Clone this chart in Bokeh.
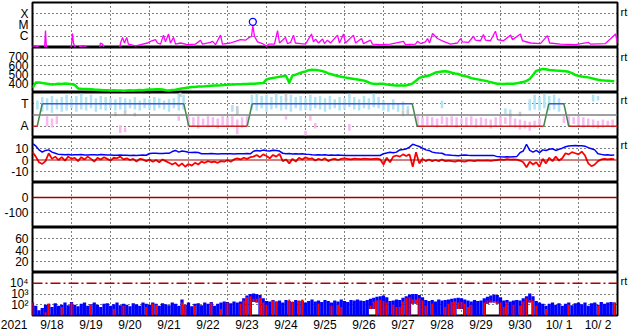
import numpy as np
from bokeh.plotting import figure
from bokeh.layouts import column
from bokeh.models import (Range1d, FixedTicker, Span, Grid, ColumnDataSource,
                          LinearAxis, LogAxis)
from bokeh.embed import file_html
from bokeh.resources import INLINE

FONT = "Liberation Sans"

# ---------------- categories / tick labels ----------------
year_label = "2021"
day_labels = ["9/18", "9/19", "9/20", "9/21", "9/22", "9/23", "9/24", "9/25",
              "9/26", "9/27", "9/28", "9/29", "9/30", "10/ 1", "10/ 2"]
day_starts = [24 * i for i in range(1, 15)]          # midnight grid lines (hours)
day_centers = [24 * i + 12 for i in range(15)]       # label positions (noon)

# ---------------- X-ray flux (log10 W/m2) ----------------
xray_hours = [0, 1.2, 3.7, 4.9, 7.4, 8.0, 8.6, 23.4, 24.0, 24.6, 25.2, 25.8, 27, 29.5, 32, 34.5,
              41.2, 41.8, 43.1, 44.3, 53.5, 54.2, 55.4, 56.6, 58.0, 59, 63.4, 66.5, 70.8, 72.6,
              75.7, 76.9, 78.8, 80.6, 81.8, 83.7, 84.9, 86.8, 88, 91.1, 95.4, 100.3, 103.4, 104.6,
              109.5, 110.8, 112.6, 115.7, 116.9, 121.8, 124.9, 128, 131.1, 132.9, 134.8, 135.6,
              136.6, 138.5, 141.5, 144, 145.2, 148.9, 150.8, 152, 155.7, 156.9, 158.8, 160.6,
              161.8, 164.9, 168, 171.7, 172.9, 174.2, 176, 178.5, 179.7, 181.5, 183.4, 187.7,
              188.9, 191.4, 192.6, 197.5, 198.8, 202.5, 203.7, 208, 209.2, 214.2, 220.3, 228.3,
              229.5, 235.7, 236.9, 238.8, 241.8, 243.1, 244.3, 246.2, 249.2, 252.9, 257.2, 261.5,
              263.4, 264.6, 268.3, 271.4, 272.6, 275.7, 277.5, 278.8, 281.8, 284.9, 286.2, 289.8,
              294.2, 295.4, 300.3, 301.5, 306.5, 312.6, 316.9, 318.2, 324.9, 334.2, 342.2, 343.4,
              352.6, 358.8, 360]
xray_log10 = [-6.9, -6.85, -6.95, -7.1, -7.1, -5.5, -7.1, -7.1, -6.8, -5.75, -6.6, -6.85, -7.1, -6.9, -6.85, -7.1,
              -7.1, -6.6, -6.7, -7.1, -7.1, -6.6, -6.1, -6.6, -6.1, -6.7, -6.85, -6.75, -6.6, -6.45,
              -6.3, -6.6, -6.7, -5.9, -6.5, -5.8, -6.6, -6.1, -6.7, -6.6, -6.75, -6.7, -6.35, -6.7,
              -6.55, -6.45, -6.75, -5.9, -6.7, -6.6, -6.45, -6.3, -6.35, -6.15, -6.0, -5.05,
              -6.0, -6.5, -6.65, -6.9, -6.7, -6.7, -5.5, -6.6, -6.1, -6.65, -6.55, -5.9,
              -6.6, -6.65, -6.7, -5.8, -6.5, -6.25, -6.6, -6.25, -6.65, -6.35, -6.6, -5.9,
              -6.6, -5.8, -6.6, -5.9, -6.6, -6.2, -6.65, -6.35, -6.7, -6.75, -6.7, -6.45,
              -6.75, -6.7, -6.45, -6.65, -6.5, -6.2, -6.6, -5.75, -6.2, -6.45, -6.7, -6.6,
              -6.2, -6.5, -6.55, -6.0, -6.35, -6.4, -5.85, -6.35, -6.4, -5.55, -6.3, -6.4,
              -5.9, -6.3, -5.8, -6.4, -6.6, -6.65, -5.95, -6.6, -6.7, -6.75, -6.55, -6.7,
              -6.65, -5.8, -6.6]
flare_hours = [135.6]
flare_log10 = [-4.72]

# ---------------- 2-hour series (one row = one day) ----------------
speed = [352, 410, 412, 405, 400, 395, 390, 392, 398, 394, 399, 396,
         392, 385, 345, 342, 340, 338, 336, 333, 331, 328, 325, 324,
         322, 324, 321, 323, 320, 322, 324, 322, 325, 327, 326, 330,
         332, 334, 336, 337, 333, 325, 322, 328, 332, 338, 345, 350,
         355, 360, 362, 366, 368, 370, 373, 375, 377, 378, 380, 383,
         385, 388, 389, 391, 392, 394, 395, 397, 396, 399, 402, 405,
         445, 455, 462, 468, 474, 480, 487, 410, 488, 498, 512, 525,
         535, 548, 552, 550, 546, 540, 528, 512, 503, 492, 484, 474,
         468, 462, 456, 450, 445, 438, 432, 420, 402, 396, 395, 396,
         397, 390, 385, 380, 378, 377, 378, 379, 388, 402, 430, 462,
         472, 480, 488, 505, 522, 528, 533, 536, 530, 520, 512, 505,
         492, 482, 475, 460, 452, 446, 438, 432, 424, 415, 405, 398,
         396, 395, 396, 397, 398, 402, 410, 416, 430, 450, 495, 540,
         550, 562, 558, 550, 548, 545, 543, 540, 537, 530, 515, 495,
         485, 478, 472, 468, 460, 450, 442, 437, 433, 430, 427, 425]

bt = [14.5, 12.5, 9, 7, 8.5, 9, 7, 6, 5, 4.8, 4.6, 4.8,
      4.5, 4.7, 4.6, 4.8, 4.4, 4.5, 4.6, 4.7, 4.5, 4.8, 4.6, 4.4,
      4.5, 4.3, 4.2, 4.4, 4.2, 4.3, 4.1, 4.2, 4.0, 4.3, 4.4, 4.2,
      5.8, 5.9, 6.0, 5.8, 5.7, 6.0, 5.9, 7.5, 8.5, 7.0, 8.0, 7.5,
      6.8, 6.7, 6.8, 6.6, 5.6, 5.5, 5.6, 5.7, 5.6, 5.4, 5.5, 5.6,
      5.5, 5.6, 5.4, 5.6, 5.5, 5.6, 5.7, 5.5, 7.8, 8.5, 8.0, 8.8,
      8.2, 8.0, 8.7, 8.4, 7.9, 6.0, 5.5, 5.8, 5.4, 5.6, 5.3, 5.5,
      5.2, 5.0, 4.7, 4.5, 4.6, 4.4, 4.6, 4.3, 4.5, 4.2, 4.4, 4.3,
      4.0, 4.1, 4.0, 3.9, 4.0, 4.1, 4.0, 3.9, 4.0, 4.0, 4.1, 4.0,
      5.6, 6.2, 6.8, 6.5, 7.0, 8.9, 9.3, 9.8, 11.5, 14.0, 13.0, 12.0,
      10.5, 9.0, 8.5, 7.0, 6.5, 6.2, 6.0, 4.7, 4.5, 4.2, 4.0, 3.8,
      4.3, 4.5, 4.2, 4.0, 4.1, 4.0, 3.9, 4.0, 4.1, 4.0, 3.9, 3.0,
      2.8, 2.7, 2.9, 2.6, 2.8, 3.0, 6.5, 8.0, 14.0, 8.5, 7.0, 8.5,
      6.5, 9.0, 8.5, 9.5, 10.0, 8.5, 9.5, 10.5, 11.8, 12.5, 12.7, 12.8,
      12.7, 12.6, 12.3, 11.0, 10.0, 9.0, 5.5, 5.0, 4.5, 4.6, 4.3, 4.5]

bz = [7, 3, -2, -3.5, -1, 6, 1, 3, 0, 2.5, -0.5, 3,
      1, 2, -1, 2.5, 0.5, 3, 1, -1.5, 2, 0.5, 2.5, 1,
      -0.5, 2, 1.5, 3, 0.5, 1.5, 0, 1, -1.5, 1, 0.5, -1,
      0.5, -1.5, 0, -2, 0.5, -1, -2.5, -4, -2.5, -5.5, -3, -6,
      -3.5, -5, -2.5, -4, -1.5, -2.5, -1, -2, -1.5, -2.5, -1, -1.5,
      0, -1.5, 0.5, 1.5, 0.5, 2, 1, 2.5, 3, 4.5, 2.5, 5,
      3.5, 1.5, 4.5, 3, 5.5, -1, 0.5, -3, 1, -1.5, 2, 0.5,
      2.5, 1, 1.5, -0.5, 1, 0, 1.5, -1, 0.5, 1, 0, 1,
      1.5, 1, 0.5, 1.2, 1, 0.8, 1.2, 1, 0.8, 1, 1.2, 0.5,
      -4, 2, -2, 3, 4, 3, 5, 3.5, 5, -6, 7, -3,
      1, -1, 0.5, -1, 0, -1, 0.5, -1, -0.5, -1, -1.5, -0.5,
      -1, -1.5, -0.5, -0.5, -1, -0.3, -0.6, -0.5, -0.3, -0.8, -0.4, 0,
      0.5, 0.2, 0.8, 0.4, 0.6, 0.3, -0.5, -2, -6.5, -1.5, -4, -2,
      -6, 1, -3, 2, -1, 3, -0.5, 1.5, 6, 5, 7, 6,
      5, 7.5, 4, -3, -5.5, -4, -1, 0.5, 1, 0.5, 1, 0.8]

# particle flux, upper envelope (log10), 2-hour bins
flux_hi = [2.2, 1.9, 1.5, 1.7, 2.0, 2.1, 1.8, 2.15, 1.9, 2.0, 2.2, 1.95,
           2.25, 2.0, 1.85, 2.1, 2.2, 1.9, 2.05, 2.2, 2.0, 1.8, 2.1, 2.15,
           1.9, 2.05, 2.2, 1.95, 2.1, 2.0, 1.85, 2.15, 2.05, 1.9, 2.2, 2.1,
           2.0, 2.2, 2.1, 1.9, 2.15, 2.05, 1.95, 2.2, 2.1, 1.9, 2.5, 2.0,
           2.2, 1.85, 2.1, 2.15, 1.95, 2.2, 2.1, 2.25, 1.9, 2.1, 2.2, 2.3,
           2.25, 2.15, 2.3, 2.2, 2.3, 2.6, 2.85, 3.0, 3.05, 3.0, 2.9, 2.6,
           2.35, 2.3, 2.45, 2.3, 2.4, 2.2, 2.45, 2.35, 2.25, 2.45, 2.35, 2.4,
           2.2, 2.35, 2.5, 2.3, 2.4, 2.25, 2.45, 2.35, 2.2, 2.4, 2.3, 2.5,
           2.35, 2.25, 2.45, 2.4, 2.5, 2.4, 2.35, 2.45, 2.55, 2.65, 2.75, 2.8,
           2.85, 2.7, 2.35, 2.4, 2.5, 2.45, 2.65, 2.8, 2.95, 3.0, 3.0, 2.9,
           2.7, 2.45, 2.35, 2.45, 2.3, 2.5, 2.4, 2.45, 2.5, 2.55, 2.6, 2.65,
           2.6, 2.5, 2.4, 2.3, 2.45, 2.35, 2.4, 2.6, 2.75, 2.85, 2.95, 2.9,
           2.7, 2.4, 2.45, 2.3, 2.4, 2.45, 2.4, 2.6, 2.8, 3.05, 2.8, 2.35,
           2.2, 2.1, 1.9, 2.1, 2.2, 2.0, 2.15, 1.9, 2.1, 2.2, 1.95, 2.15,
           2.2, 2.05, 2.2, 1.9, 2.15, 2.2, 2.0, 2.25, 2.1, 2.2, 2.25, 2.2]
# hollow cores of the daily arches (lower bound, log10)
core_hours = [136, 138, 208, 210, 234, 236, 262, 264, 280, 282, 284, 286, 306]
core_lo = [2.25, 2.2, 1.6, 1.6, 2.1, 2.1, 1.6, 1.6, 2.1, 2.2, 2.2, 2.1, 2.2]
# second channel (red), log10
red_hours = [0, 8, 10, 18, 24, 36, 50, 56, 70, 74, 76, 92, 94, 100, 110, 116, 120,
             128, 130, 132, 134, 136, 138, 140, 142, 144, 148, 150, 158, 160, 164, 166,
             176, 184, 188, 190, 208, 210, 212, 214, 216, 218, 222, 224,
             226, 228, 230, 232, 234, 236, 238, 240, 242, 246,
             254, 256, 258, 260, 262, 264, 266, 268, 270,
             278, 280, 282, 284, 286, 288, 290, 292, 296,
             300, 302, 304, 306, 308, 310, 316, 330, 348, 358]
red_hi = [2.2, 1.3, 2.1, 1.8, 2.2, 2.0, 1.6, 1.9, 1.8, 2.1, 2.0, 2.2, 2.0, 1.9, 2.2, 1.6, 2.2,
          2.1, 2.4, 2.7, 2.8, 2.55, 2.55, 2.65, 2.2, 2.0, 2.4, 2.3, 2.5, 2.3, 2.4, 2.5,
          2.1, 1.9, 2.0, 1.8, 1.9, 2.3, 2.4, 2.45, 2.35, 2.2, 2.0, 1.8,
          1.8, 2.3, 2.6, 2.7, 2.5, 2.5, 2.6, 2.4, 1.9, 2.1,
          1.8, 2.1, 2.25, 2.3, 2.2, 2.25, 2.1, 1.8, 2.0,
          2.2, 2.4, 2.4, 2.35, 2.3, 2.2, 1.8, 2.2, 2.0,
          1.9, 2.3, 2.6, 2.45, 2.4, 1.9, 1.6, 2.0, 1.9, 2.2]

# ---------------- IMF sector (A / T) ----------------
sector_hours = [0, 2.9, 6.0, 93.1, 96.2, 132.1, 135.2, 233.7, 236.7, 314.6, 317.7, 327.0, 330.0, 360]
sector_state = ["A", "A", "T", "T", "A", "A", "T", "T", "A", "A", "T", "T", "A", "A"]
toward_hours = list(range(3, 94, 3)) + [123, 126] + list(range(135, 232, 3)) + \
               [252, 291, 294, 306, 309, 312, 315, 318, 321, 324, 345, 348]
toward_lo = [2.5, 2.3, 2.4, 2.2, 2.5, 2.3, 2.4, 2.6, 2.3, 2.5, 2.4, 2.6, 2.3, 2.5, 2.4, 2.6,
             2.4, 2.5, 2.3, 2.6, 2.5, 2.4, 2.6, 2.5, 2.4, 2.6, 2.5, 2.3, 2.6, 2.4, 2.5,
             2.3, 2.1,
             2.5, 2.4, 2.6, 2.3, 2.5, 2.6, 2.4, 2.5, 2.3, 2.6, 2.4, 2.5, 2.4, 2.6, 2.5, 2.3,
             2.5, 2.6, 2.4, 2.5, 2.7, 2.5, 2.4, 2.6, 2.5, 2.7, 2.6, 2.4, 2.3, 2.5, 2.3, 2.4, 2.2,
             2.6, 2.1, 2.2, 2.4, 2.5, 2.4, 2.6, 2.4, 2.5, 2.3, 3.2, 3.3]
toward_hi = [3.3, 3.6, 3.5, 3.7, 3.4, 3.6, 3.8, 3.5, 3.7, 3.9, 3.6, 3.8, 3.5, 3.7, 3.6, 3.5,
             3.4, 3.6, 3.5, 3.4, 3.6, 3.3, 3.5, 3.4, 3.6, 3.5, 3.3, 3.4, 3.5, 3.9, 3.8,
             2.9, 2.6,
             3.8, 3.9, 3.7, 3.8, 3.6, 3.9, 3.7, 3.5, 3.8, 3.6, 3.7, 3.5, 3.8, 3.6, 3.7, 3.5,
             3.7, 3.4, 3.6, 3.5, 3.9, 3.6, 3.4, 3.7, 3.5, 3.9, 3.6, 3.3, 3.1, 3.4, 3.0, 3.2, 2.8,
             3.3, 2.6, 2.5, 3.4, 3.8, 3.6, 3.9, 3.7, 3.8, 3.5, 3.8, 3.7]
away_hours = [9, 12, 15, 54, 57, 90] + list(range(96, 133, 3)) + [156, 168, 171, 174, 195] + \
             list(range(237, 313, 3)) + list(range(327, 358, 3))
away_lo = [1.0, 0.9, 1.2, 0.4, 0.5, 1.5,
           0.9, 1.0, 0.8, 1.1, 0.9, 1.0, 0.8, 1.1, 0.9, 1.0, 0.3, 0.9, 1.1,
           1.6, 0.2, 1.5, 0.8, 0.6,
           1.0, 0.9, 1.1, 1.0, 0.9, 1.2, 1.0, 1.1, 0.9, 1.2, 1.0, 1.1, 0.9, 1.0, 1.1, 0.8,
           1.0, 1.1, 1.2, 1.0, 0.9, 0.7, 0.8, 0.6, 0.9, 1.1,
           1.3, 1.0, 1.2, 1.1, 0.9, 1.0, 0.9, 0.8, 0.9, 1.0, 0.9]
away_hi = [1.9, 1.7, 1.9, 1.1, 0.9, 1.9,
           1.9, 1.8, 1.9, 1.7, 1.9, 1.8, 1.7, 1.9, 1.8, 1.9, 1.6, 1.8, 1.9,
           1.9, 0.6, 1.95, 1.3, 1.2,
           1.9, 1.8, 1.9, 1.8, 1.7, 1.9, 1.8, 1.9, 1.8, 1.7, 1.8, 1.9, 1.7, 1.8, 1.7, 1.6,
           1.8, 1.9, 1.8, 1.9, 1.7, 1.6, 1.5, 1.4, 1.5, 1.7,
           1.9, 1.9, 1.8, 1.9, 1.8, 1.7, 1.6, 1.5, 1.6, 1.5, 1.6]
mixed_hours = [51, 57, 63, 91, 126, 156, 228, 231, 294, 300]
mixed_lo = [1.9, 2.0, 1.9, 3.6, 2.0, 3.2, 1.9, 2.0, 1.8, 1.9]
mixed_hi = [2.3, 2.4, 2.2, 4.0, 2.8, 3.9, 2.4, 2.5, 2.2, 2.3]

# ---------------- build ----------------
hours2 = np.arange(0, 360, 2)
x_range = Range1d(0, 360)


def style_axis(ax, size="12px", standoff=4):
    ax.axis_line_color = None
    ax.major_tick_line_color = None
    ax.minor_tick_line_color = None
    ax.major_tick_in = 0
    ax.major_tick_out = 0
    ax.major_label_standoff = standoff
    ax.major_label_text_font = FONT
    ax.major_label_text_font_size = size
    ax.major_label_text_color = "black"


def make_panel(height, y_range, y_ticks, y_labels, grid_ticks, log=False, top=0, bottom=0,
               with_xaxis=False, rt=None):
    p = figure(width=633, height=height, x_range=x_range, y_range=y_range,
               y_axis_type="log" if log else "linear",
               x_axis_location="below" if with_xaxis else None,
               output_backend="svg", toolbar_location=None,
               min_border_left=32, min_border_right=16,
               min_border_top=top, min_border_bottom=bottom)
    p.outline_line_color = "black"
    p.outline_line_width = 2
    p.outline_line_alpha = 1
    for g in p.grid:
        g.visible = False
    p.add_layout(Grid(dimension=0, ticker=FixedTicker(ticks=day_starts),
                      grid_line_color="black", grid_line_dash="1 3", grid_line_width=1))
    if grid_ticks:
        p.add_layout(Grid(dimension=1, ticker=FixedTicker(ticks=grid_ticks),
                          grid_line_color="black", grid_line_dash="1 3", grid_line_width=1))
    ax = p.yaxis[0]
    ax.ticker = FixedTicker(ticks=y_ticks, minor_ticks=[])
    ax.major_label_overrides = dict(zip(y_ticks, y_labels))
    style_axis(ax)
    if rt is not None:
        cls = LogAxis if log else LinearAxis
        rax = cls(ticker=FixedTicker(ticks=[rt], minor_ticks=[]),
                  major_label_overrides={rt: "rt"})
        style_axis(rax, size="11px", standoff=3)
        p.add_layout(rax, "right")
    return p


# Panel 1: X-ray
p1 = make_panel(47, Range1d(1e-7, 1e-3), [1e-6, 1e-5, 1e-4], ["C", "M", "X"],
                [1e-6, 1e-5, 1e-4], log=True, top=2, rt=10 ** -3.8)
p1.line(xray_hours, 10 ** np.array(xray_log10), line_color="#ff00ff", line_width=1.3)
p1.scatter(flare_hours, 10 ** np.array(flare_log10), marker="circle", size=7,
           fill_color=None, line_color="#0000ff", line_width=1.3)

# Panel 2: speed
p2 = make_panel(45, Range1d(300, 800), [400, 500, 600, 700], ["400", "500", "600", "700"],
                [400, 500, 600, 700], rt=700)
p2.line(hours2, speed, line_color="#00ee00", line_width=2.5)

# Panel 3: sector
p3 = make_panel(45, Range1d(0, 4), [1, 3], ["A", "T"], [1, 3], rt=3.3)
level = {"A": 1, "T": 3}
p3.segment(x0=toward_hours, y0=toward_lo, x1=toward_hours, y1=toward_hi,
           line_color="#aee4f6", line_width=2.5)
p3.segment(x0=away_hours, y0=away_lo, x1=away_hours, y1=away_hi,
           line_color="#f6baf0", line_width=2.5)
p3.segment(x0=mixed_hours, y0=mixed_lo, x1=mixed_hours, y1=mixed_hi,
           line_color="#cccccc", line_width=2.5)
p3.add_layout(Span(location=2, dimension="width", line_color="#808080", line_width=1.5))
seg = dict(x0=[], y0=[], x1=[], y1=[], c=[])
for i in range(len(sector_hours) - 1):
    a, b = sector_state[i], sector_state[i + 1]
    seg["x0"].append(sector_hours[i]); seg["x1"].append(sector_hours[i + 1])
    seg["y0"].append(level[a]); seg["y1"].append(level[b])
    seg["c"].append("#4455dd" if a == b == "T" else ("#cc2020" if a == b == "A" else "#3f8a4a"))
p3.segment(x0="x0", y0="y0", x1="x1", y1="y1", line_color="c", line_width=1.5,
           source=ColumnDataSource(seg))

# Panel 4: IMF Bt / Bz
p4 = make_panel(45, Range1d(-20, 20), [-10, 0, 10], ["-10", "0", "10"], [-10, 10], rt=12.9)
p4.add_layout(Span(location=0, dimension="width", line_color="#a00000", line_width=1))
p4.line(hours2, bz, line_color="#ff0000", line_width=1.8)
p4.line(hours2, bt, line_color="#0000ff", line_width=1.5)

# Panel 5
p5 = make_panel(45, Range1d(-200, 100), [-100, 0], ["-100", "0"], [-100])
p5.add_layout(Span(location=0, dimension="width", line_color="#a00000", line_width=1.5))

# Panel 6
p6 = make_panel(45, Range1d(0, 80), [20, 40, 60], ["20", "40", "60"], [20, 40, 60])

# Panel 7: particle flux
p7 = make_panel(62, Range1d(10, 1e5), [1e2, 1e3, 1e4], ["10\u00b2", "10\u00b3", "10\u2074"],
                [1e2, 1e3], log=True, bottom=17, with_xaxis=True, rt=10 ** 4.2)
core = dict(zip(core_hours, core_lo))
blue_bottom = np.array([10 ** core[t] if t in core else 10.0 for t in hours2])
p7.quad(left=hours2 - 1, right=hours2 + 1, bottom=blue_bottom, top=10 ** np.array(flux_hi),
        fill_color="#0000ff", line_color=None)
red_bottom = np.array([10 ** core[t] if t in core else 10.0 for t in red_hours])
red_hours_a = np.array(red_hours, dtype=float)
p7.quad(left=red_hours_a - 0.6, right=red_hours_a + 0.6, bottom=red_bottom,
        top=10 ** np.array(red_hi), fill_color="#ff0000", line_color=None)
p7.add_layout(Span(location=1e4, dimension="width", line_color="#b00000", line_width=1.5,
                   line_dash="10 3 2 3"))
xa = p7.xaxis[0]
x_ticks = [0] + day_centers
x_texts = [year_label + "\u00a0" * 11] + day_labels
xa.ticker = FixedTicker(ticks=x_ticks, minor_ticks=[])
xa.major_label_overrides = dict(zip(x_ticks, x_texts))
style_axis(xa, size="12px", standoff=2)

layout = column(p1, p2, p3, p4, p5, p6, p7, spacing=0)
open("out.html", "w").write(file_html(layout, INLINE))
